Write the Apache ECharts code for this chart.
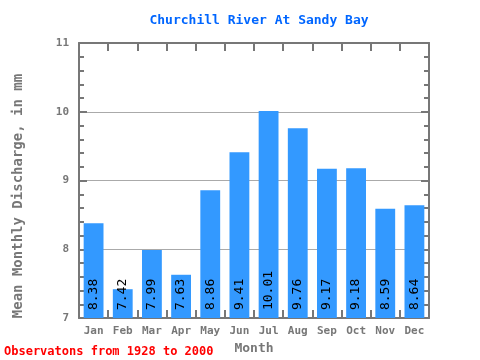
<!DOCTYPE html>
<html><head><meta charset="utf-8">
<script src="https://cdn.jsdelivr.net/npm/echarts@6/dist/echarts.min.js"></script>
<style>html,body{margin:0;padding:0;background:#fff}#c{width:480px;height:360px}</style>
</head><body><div id="c"></div>
<script>
var months = ['Jan','Feb','Mar','Apr','May','Jun','Jul','Aug','Sep','Oct','Nov','Dec'];
var discharge = [8.38, 7.42, 7.99, 7.63, 8.86, 9.41, 10.01, 9.76, 9.17, 9.18, 8.59, 8.64];
var titleText = 'Churchill River At Sandy Bay';
var yName = 'Mean Monthly Discharge, in mm';
var xName = 'Month';
var footer = 'Observatons from 1928 to 2000';

var F = '"DejaVu Sans Mono", monospace';
var axisGrey = '#777777';
var yMin = 7;
var chart = echarts.init(document.getElementById('c'), null, {renderer:'canvas'});
chart.setOption({
  animation: false,
  backgroundColor: '#ffffff',
  title: {text: titleText, left: 254, top: 9, textAlign: 'center',
    textStyle: {color: '#0066ff', fontFamily: F, fontWeight: 'bold', fontSize: 13}},
  grid: {left: 79, right: 51, top: 43, bottom: 38, containLabel: false},
  graphic: [
    {type: 'text', left: 4, top: 346,
      style: {text: footer, fill: '#ff0000', font: 'bold 12px ' + F}},
    {type: 'text', x: 18, y: 196, rotation: Math.PI / 2,
      style: {text: yName, fill: axisGrey, font: 'bold 14px ' + F, align: 'center', verticalAlign: 'middle'}}
  ],
  xAxis: [{
    type: 'category', data: months, position: 'bottom', gridIndex: 0,
    name: xName, nameLocation: 'middle', nameGap: 20,
    nameTextStyle: {color: axisGrey, fontFamily: F, fontWeight: 'bold', fontSize: 13},
    axisLine: {lineStyle: {color: axisGrey, width: 2}},
    axisTick: {show: true, inside: true, length: 8, interval: 0, lineStyle: {color: axisGrey, width: 2}},
    axisLabel: {color: axisGrey, fontFamily: F, fontWeight: 'bold', fontSize: 11, margin: 8, interval: 0}
  }, {
    type: 'category', data: months, position: 'top', gridIndex: 0,
    axisLine: {show: true, lineStyle: {color: axisGrey, width: 2}},
    axisTick: {show: true, inside: true, length: 8, interval: 0, lineStyle: {color: axisGrey, width: 2}},
    axisLabel: {show: false, interval: 0}
  }],
  yAxis: [{
    type: 'value', min: yMin, max: 11, interval: 1, position: 'left',
    axisLine: {show: true, lineStyle: {color: axisGrey, width: 2}},
    axisTick: {show: true, inside: true, length: 8, lineStyle: {color: axisGrey, width: 2}},
    minorTick: {show: true, splitNumber: 5, length: 5, lineStyle: {color: axisGrey, width: 2}},
    axisLabel: {color: axisGrey, fontFamily: F, fontWeight: 'bold', fontSize: 11, margin: 10},
    splitLine: {show: true, lineStyle: {color: '#aaaaaa', width: 1}}
  }, {
    type: 'value', min: yMin, max: 11, interval: 1, position: 'right',
    axisLine: {show: true, lineStyle: {color: axisGrey, width: 2}},
    axisTick: {show: true, inside: true, length: 8, lineStyle: {color: axisGrey, width: 2}},
    minorTick: {show: true, splitNumber: 5, length: 5, lineStyle: {color: axisGrey, width: 2}},
    axisLabel: {show: false},
    splitLine: {show: false}
  }],
  series: [{
    type: 'bar', data: discharge, barWidth: '68%', xAxisIndex: 0, yAxisIndex: 0,
    itemStyle: {color: '#3399ff'},
    label: {show: true, position: 'insideBottom', rotate: 90, distance: 8,
      align: 'left', verticalAlign: 'middle',
      color: '#000', fontFamily: F, fontSize: 13,
      formatter: function(p){ return p.value.toFixed(2); }}
  }]
});
</script></body></html>
